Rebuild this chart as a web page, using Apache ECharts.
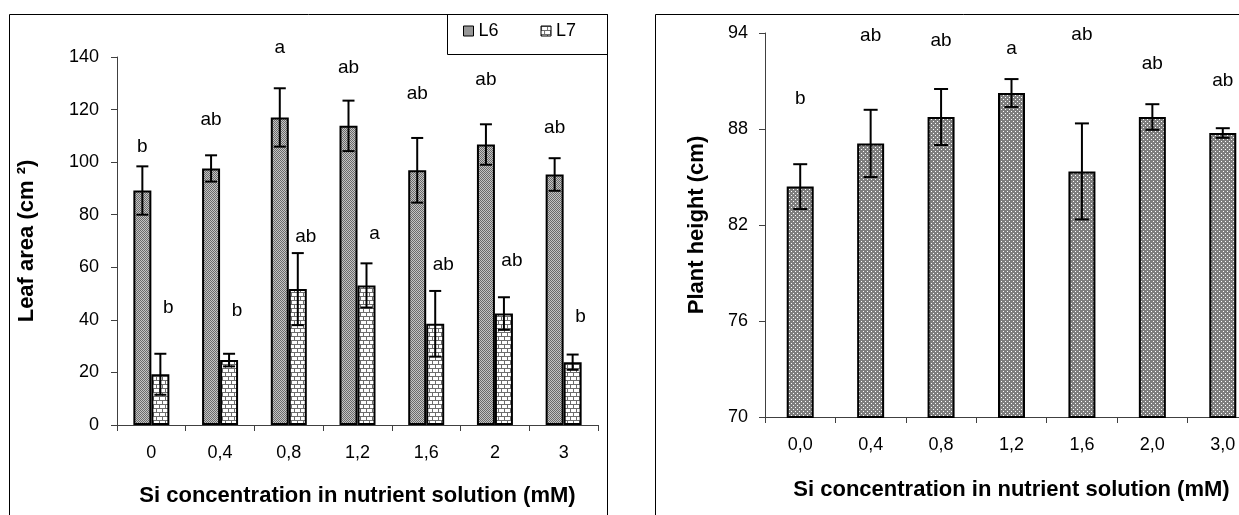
<!DOCTYPE html>
<html>
<head>
<meta charset="utf-8">
<script src="https://cdn.jsdelivr.net/npm/echarts@6/dist/echarts.min.js"></script>
<style>
html,body{margin:0;padding:0;background:#fff;overflow:hidden;}
#c{width:1270px;height:515px;}
</style>
</head>
<body>
<div id="c"></div>
<script>
// ---------- data ----------
const leafCategories = ['0', '0,4', '0,8', '1,2', '1,6', '2', '3'];
const leafL6 = [89.2, 97.6, 117, 113.8, 96.9, 106.7, 95.3];
const leafL6Err = [9.2, 5.0, 11.1, 9.6, 12.3, 7.7, 6.2];
const leafL7 = [19.3, 24.7, 51.7, 53.1, 38.5, 42.4, 23.9];
const leafL7Err = [7.8, 2.4, 13.7, 8.4, 12.5, 6.2, 2.9];
const leafL6Letters = ['b', 'ab', 'a', 'ab', 'ab', 'ab', 'ab'];
const leafL6LetterY = [106, 116.2, 143.7, 136, 126.2, 131.3, 113];
const leafL7Letters = ['b', 'b', 'ab', 'a', 'ab', 'ab', 'b'];
const leafL7LetterY = [44.5, 43.3, 71.8, 72.8, 60.9, 62.5, 41.3];
const leafTicks = [0, 20, 40, 60, 80, 100, 120, 140];

const heightCategories = ['0,0', '0,4', '0,8', '1,2', '1,6', '2,0', '3,0'];
const plantHeight = [84.4, 87.1, 88.75, 90.25, 85.35, 88.75, 87.75];
const plantHeightErr = [1.4, 2.1, 1.75, 0.87, 3.0, 0.8, 0.3];
const heightLetters = ['b', 'ab', 'ab', 'a', 'ab', 'ab', 'ab'];
const heightLetterY = [89.9, 93.8, 93.5, 93.0, 93.9, 92.1, 91.0];
const heightTicks = [70, 76, 82, 88, 94];

// ---------- patterns ----------
function makePattern(w, h, bg, fg, pts) {
  const cv = document.createElement('canvas');
  cv.width = w; cv.height = h;
  const ctx = cv.getContext('2d');
  ctx.fillStyle = bg; ctx.fillRect(0, 0, w, h);
  ctx.fillStyle = fg;
  pts.forEach(p => ctx.fillRect(p[0], p[1], p[2] || 1, p[3] || 1));
  return { image: cv, repeat: 'repeat' };
}
const patL6 = makePattern(2, 2, '#c4c4c4', '#6a6a6a', [[0, 0], [1, 1]]);
const patL7 = makePattern(6, 8, '#ffffff', '#6e6e6e',
  [[0, 0, 6, 1], [0, 1, 1, 3], [0, 4, 6, 1], [3, 5, 1, 3]]);
const patH = makePattern(4, 4, '#7e7e7e', '#ffffff', [[1, 1], [3, 3]]);

const FONT = 'Liberation Sans, Arial, sans-serif';
const BAR_L = 18, BAR_R = 27;

function errSeries(xi, yi, values, errs, offset, cap) {
  return {
    type: 'custom', xAxisIndex: xi, yAxisIndex: yi, z: 5, clip: false, silent: true,
    data: values.map((v, i) => [i, v, errs[i]]),
    renderItem: function (params, api) {
      const i = api.value(0), v = api.value(1), e = api.value(2);
      const t = api.coord([i, v + e]);
      const b = api.coord([i, v - e]);
      const x = t[0] + offset;
      const st = { stroke: '#000', lineWidth: 2 };
      return {
        type: 'group', children: [
          { type: 'line', shape: { x1: x, y1: t[1], x2: x, y2: b[1] }, style: st },
          { type: 'line', shape: { x1: x - cap / 2, y1: t[1], x2: x + cap / 2, y2: t[1] }, style: st },
          { type: 'line', shape: { x1: x - cap / 2, y1: b[1], x2: x + cap / 2, y2: b[1] }, style: st }
        ]
      };
    }
  };
}
function letterSeries(xi, yi, ys, letters, offset) {
  return {
    type: 'custom', xAxisIndex: xi, yAxisIndex: yi, z: 6, clip: false, silent: true,
    data: ys.map((y, i) => [i, y]),
    renderItem: function (params, api) {
      const p = api.coord([api.value(0), api.value(1)]);
      return {
        type: 'text', x: p[0] + offset, y: p[1],
        style: { text: letters[params.dataIndex], font: '19px ' + FONT, fill: '#000',
          align: 'center', verticalAlign: 'middle' }
      };
    }
  };
}

const axisLineStyle = { color: '#404040', width: 1 };
const tickLabel = { fontSize: 18, fontFamily: FONT, color: '#000' };
const titleStyle = { fontSize: 22, fontWeight: 'bold', fontFamily: FONT, color: '#000' };
const option = {
  animation: false,
  backgroundColor: '#fff',
  grid: [
    { left: 117, top: 57, width: 481, height: 368 },
    { left: 765, top: 33, width: 493, height: 384 }
  ],
  legend: {
    left: 463, top: 22, itemWidth: 10, itemHeight: 10, itemGap: 42, padding: 0,
    icon: 'rect',
    data: ['L6', 'L7'],
    textStyle: { fontSize: 18, fontFamily: FONT, color: '#000' },
    itemStyle: { borderColor: '#000', borderWidth: 1 }
  },
  xAxis: [
    {
      type: 'category', gridIndex: 0, data: leafCategories,
      axisLine: { lineStyle: axisLineStyle },
      axisTick: { show: true, length: 6, lineStyle: axisLineStyle },
      axisLabel: Object.assign({ margin: 19 }, tickLabel),
      name: 'Si concentration in nutrient solution (mM)', nameLocation: 'middle', nameGap: 60,
      nameTextStyle: titleStyle
    },
    {
      type: 'category', gridIndex: 1, data: heightCategories,
      axisLine: { lineStyle: axisLineStyle },
      axisTick: { show: true, length: 6, lineStyle: axisLineStyle },
      axisLabel: Object.assign({ margin: 19 }, tickLabel),
      name: 'Si concentration in nutrient solution (mM)', nameLocation: 'middle', nameGap: 62,
      nameTextStyle: titleStyle
    }
  ],
  yAxis: [
    {
      type: 'value', gridIndex: 0, min: leafTicks[0], max: leafTicks[leafTicks.length - 1], interval: 20,
      splitLine: { show: false },
      axisLine: { show: true, lineStyle: axisLineStyle },
      axisTick: { show: true, length: 6, lineStyle: axisLineStyle },
      axisLabel: Object.assign({ margin: 18 }, tickLabel),
      name: 'Leaf area (cm ²)', nameLocation: 'middle', nameGap: 79,
      nameTextStyle: titleStyle
    },
    {
      type: 'value', gridIndex: 1, min: heightTicks[0], max: heightTicks[heightTicks.length - 1], interval: 6,
      splitLine: { show: false },
      axisLine: { show: true, lineStyle: axisLineStyle },
      axisTick: { show: true, length: 6, lineStyle: axisLineStyle },
      axisLabel: Object.assign({ margin: 17 }, tickLabel),
      name: 'Plant height (cm)', nameLocation: 'middle', nameGap: 57,
      nameTextStyle: titleStyle
    }
  ],
  series: [
    {
      name: 'L6', type: 'bar', xAxisIndex: 0, yAxisIndex: 0, data: leafL6,
      barWidth: BAR_L, barGap: '0%',
      itemStyle: { color: patL6, borderColor: '#000', borderWidth: 2 }
    },
    {
      name: 'L7', type: 'bar', xAxisIndex: 0, yAxisIndex: 0, data: leafL7,
      barWidth: BAR_L, barGap: '0%',
      itemStyle: { color: patL7, borderColor: '#000', borderWidth: 2 }
    },
    errSeries(0, 0, leafL6, leafL6Err, -BAR_L / 2, 12),
    errSeries(0, 0, leafL7, leafL7Err, BAR_L / 2, 12),
    letterSeries(0, 0, leafL6LetterY, leafL6Letters, -BAR_L / 2),
    letterSeries(0, 0, leafL7LetterY, leafL7Letters, BAR_L / 2 + 8),
    {
      name: 'Plant height', type: 'bar', xAxisIndex: 1, yAxisIndex: 1, data: plantHeight,
      barWidth: BAR_R,
      itemStyle: { color: patH, borderColor: '#000', borderWidth: 2 }
    },
    errSeries(1, 1, plantHeight, plantHeightErr, 0, 14),
    letterSeries(1, 1, heightLetterY, heightLetters, 0)
  ],
  graphic: [
    { type: 'rect', shape: { x: 9.5, y: 14.5, width: 598, height: 620 }, style: { fill: null, stroke: '#000', lineWidth: 1 }, z: 0 },
    { type: 'rect', shape: { x: 447.5, y: 14.5, width: 160, height: 40 }, style: { fill: null, stroke: '#000', lineWidth: 1 }, z: 0 },
    { type: 'rect', shape: { x: 655.5, y: 14.5, width: 700, height: 620 }, style: { fill: null, stroke: '#000', lineWidth: 1 }, z: 0 }
  ]
};
const chart = echarts.init(document.getElementById('c'), null, { renderer: 'canvas' });
chart.setOption(option);
</script>
</body>
</html>
